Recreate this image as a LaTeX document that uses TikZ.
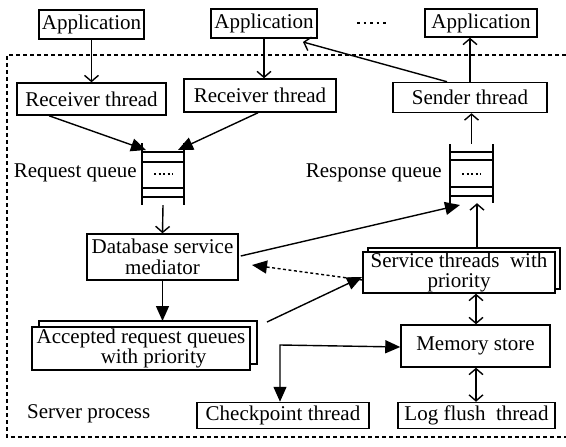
\documentclass[tikz,border=0pt]{standalone}
\usepackage{fontspec}
\setmainfont{Liberation Serif}
\usetikzlibrary{arrows.meta,calc}
\begin{document}
\begin{tikzpicture}[x=1pt,y=-1pt,
  box/.style={draw,line width=1.5pt,inner sep=0pt,align=center,
    font=\fontsize{21}{20.5}\selectfont},
  lbl/.style={inner sep=0pt,font=\fontsize{21}{20.5}\selectfont},
  conn/.style={line width=1.4pt},
  openhd/.style={conn,-{Straight Barb[length=6pt,width=14pt,line width=1.4pt]}},
  openboth/.style={conn,{Straight Barb[length=6pt,width=14pt,line width=1.4pt]}-{Straight Barb[length=6pt,width=14pt,line width=1.4pt]}},
  fillhd/.style={conn,-{Triangle[length=15pt,width=13pt]}},
  fillboth/.style={conn,{Triangle[length=15pt,width=13pt]}-{Triangle[length=15pt,width=13pt]}},
  qline/.style={line width=1.4pt},
  srv/.style={line width=1.5pt,dash pattern=on 4pt off 3pt}
]
\useasboundingbox (0,0) rectangle (566,447);

% server process border
\draw[srv] (566,55) -- (7,55) -- (7,437) -- (566,437);

% applications
\node[box,minimum width=105,minimum height=29] (app1) at (91.5,24.5) {Application};
\node[box,minimum width=106,minimum height=29] (app2) at (264,23.5) {Application};
\node[box,minimum width=112,minimum height=28] (app3) at (481,23) {Application};
\coordinate (dotsL) at (357,23);
\coordinate (dotsR) at (389,23);
\draw[line width=1.8pt,dash pattern=on 2.5pt off 4pt] (dotsL) -- (dotsR);

% threads
\node[box,minimum width=149,minimum height=32] (rec1) at (91.5,99) {Receiver thread};
\node[box,minimum width=152,minimum height=33] (rec2) at (260,95.5) {Receiver thread};
\node[box,minimum width=154,minimum height=30] (sender) at (470,97.5) {Sender thread};

% request queue
\node[minimum width=42,minimum height=62,inner sep=0pt] (rq) at (163,174) {};
\draw[qline] (142,143) -- (142,205) (184,143) -- (184,205)
  (142,152) -- (184,152) (142,162) -- (184,162)
  (142,188) -- (184,188) (142,197) -- (184,197);
\draw[line width=1.6pt,dash pattern=on 2pt off 2.5pt] (154,174) -- (173,174);
\node[lbl,anchor=east] (rqlbl) at (137,173) {Request queue};

% response queue
\node[minimum width=43,minimum height=59,inner sep=0pt] (sq) at (471.5,173.5) {};
\draw[qline] (450,144) -- (450,203) (493,144) -- (493,203)
  (450,152) -- (493,152) (450,160) -- (493,160)
  (450,187) -- (493,187) (450,196) -- (493,196);
\draw[line width=1.6pt,dash pattern=on 2pt off 2.5pt] (462,174) -- (481,174);
\node[lbl,anchor=east] (sqlbl) at (442,173) {Response queue};

% mediator
\node[box,minimum width=151,minimum height=46] (db) at (162.5,257) {Database service\\mediator};

% service threads (stacked)
\draw[line width=1.5pt,fill=white] (368,248) rectangle (560,289);
\node[box,fill=white,minimum width=192,minimum height=41] (svc) at (459,272.5) {Service threads\ \ with\\priority};

% accepted request queues (stacked)
\draw[line width=1.5pt,fill=white] (39,321) rectangle (257,364);
\node[box,fill=white,minimum width=218,minimum height=43] (acc) at (141,348.5) {Accepted request queues\\\hspace*{1.2em}with priority};

% memory, checkpoint, log
\node[box,minimum width=149,minimum height=42] (mem) at (475.5,346) {Memory store};
\node[box,minimum width=172,minimum height=26] (ckpt) at (283,415.5) {Checkpoint thread};
\node[box,minimum width=157,minimum height=26] (log) at (476.5,415.5) {Log flush\ \ thread};
\node[lbl,anchor=west] (splbl) at (27,414) {Server process};

% connectors
\draw[openhd] (app1.south) -- (app1.south |- rec1.north);
\draw[openhd] (app2.south) -- (app2.south |- rec2.north);
\draw[openhd] (sender.north) -- (sender.north |- app3.south);
\coordinate (a2in) at (303,42);
\draw[openhd] ([xshift=-23pt]sender.north) -- (a2in);

\coordinate (rqin1) at (146,150);
\coordinate (rqin2) at (178,150);
\draw[fillhd] ([xshift=-42.5pt]rec1.south) -- (rqin1);
\draw[fillhd] ([xshift=-2pt]rec2.south) -- (rqin2);

\draw[openhd] (rq.south) -- (db.north);

\coordinate (sqin) at (460,205);
\draw[fillhd] ([xshift=2pt,yshift=1pt]db.east) -- (sqin);
\draw[openhd] ([xshift=18pt]svc.north) ++(0,-4) -- ([xshift=5.5pt]sq.south);
\draw[openhd] (sq.north) -- (sq.north |- sender.south);

\coordinate (dbin) at (252,265);
\draw[conn,dash pattern=on 3pt off 2.5pt,-{Triangle[length=15pt,width=13pt]}] ([yshift=-7.5pt]svc.west) -- (dbin);

\draw[fillhd] (db.south) -- (db.south |- 0,321);

\coordinate (accout) at (267,322);
\coordinate (svcin) at (362,277);
\draw[fillhd] (accout) -- (svcin);

\draw[openboth] ([xshift=17pt]svc.south) -- ([xshift=0.5pt]mem.north);
\draw[openboth] ([xshift=0.5pt]mem.south) -- ([xshift=0.5pt]mem.south |- log.north);

\coordinate (ckcorner) at (280,345);
\draw[fillboth] ([yshift=-1pt]mem.west) -- (ckcorner) -- (ckcorner |- ckpt.north);
\end{tikzpicture}
\end{document}
